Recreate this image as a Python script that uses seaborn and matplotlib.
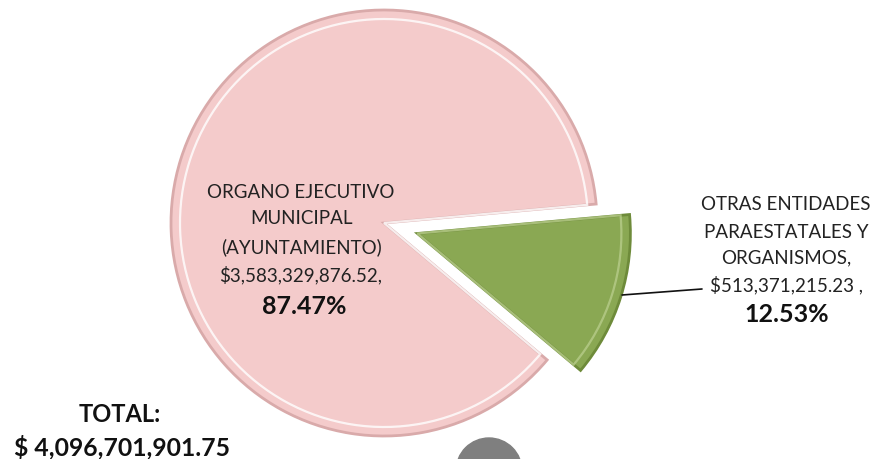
import matplotlib
matplotlib.use("Agg")
import matplotlib.pyplot as plt
from matplotlib.patches import Circle
import seaborn as sns

sns.set_theme(style="white")
plt.rcParams['font.family'] = ['Lato', 'DejaVu Sans']

# Data
categories = ["OTRAS ENTIDADES\nPARAESTATALES Y\nORGANISMOS,", "ORGANO EJECUTIVO\nMUNICIPAL\n(AYUNTAMIENTO)"]
amounts = [513371215.23, 3583329876.52]
amount_labels = ["$513,371,215.23 ,", "$3,583,329,876.52,"]
percent_labels = ["12.53%", "87.47%"]
total_label = "$ 4,096,701,901.75"
colors = ["#8AA853", "#F4CBCB"]
edge_colors = ["#6E8B3A", "#D9AAAA"]

W, H = 874, 459
fig = plt.figure(figsize=(W / 100, H / 100), dpi=100)
ax = fig.add_axes([0, 0, 1, 1])

cx, cy, R = 384, H - 223, 213
explode = [35, 0.0]

wedges, _ = ax.pie(amounts, colors=colors, startangle=-40, counterclock=True,
                   explode=explode, radius=R, center=(cx, cy),
                   wedgeprops=dict(linewidth=2.0))
for w, ec in zip(wedges, edge_colors):
    w.set_edgecolor(ec)

# inner bevel highlight
inner, _ = ax.pie(amounts, colors=colors, startangle=-40, counterclock=True,
                  explode=explode, radius=R - 9, center=(cx, cy),
                  wedgeprops=dict(linewidth=1.6, fill=False))
for w, ec in zip(inner, ["#B7CC8A", "#FFFFFF"]):
    w.set_edgecolor(ec)
    w.set_alpha(0.8)

ax.set_xlim(0, W)
ax.set_ylim(0, H)
ax.set_aspect("equal")
ax.axis("off")

fs = 13.5
pfs = 18
# Pink slice label
pink_lines = categories[1].split("\n") + [amount_labels[1]]
ys = [192, 218, 247, 275]
for t, y in zip(pink_lines, ys):
    ax.text(301, H - y, t, ha="center", va="center", fontsize=fs, color="#222222")
ax.text(304, H - 307, percent_labels[1], ha="center", va="center", fontsize=pfs,
        fontweight="bold", color="#111111")

# Green slice label
green_lines = categories[0].split("\n") + [amount_labels[0]]
ys = [205, 232, 258, 285]
for t, y in zip(green_lines, ys):
    ax.text(786, H - y, t, ha="center", va="center", fontsize=fs, color="#222222")
ax.text(787, H - 314, percent_labels[0], ha="center", va="center", fontsize=pfs,
        fontweight="bold", color="#111111")
ax.plot([622, 702], [H - 295, H - 289], color="#111111", linewidth=1.2)

# Total
ax.text(120, H - 415, "TOTAL:", ha="center", va="center", fontsize=17,
        fontweight="bold", color="#111111")
ax.text(122, H - 447, total_label, ha="center", va="center", fontsize=17.8,
        fontweight="bold", color="#111111")

# decorative grey circle at bottom
ax.add_patch(Circle((489, H - 471), 33, color="#7F7F7F", zorder=0))

fig.savefig("out.png", dpi=100)
